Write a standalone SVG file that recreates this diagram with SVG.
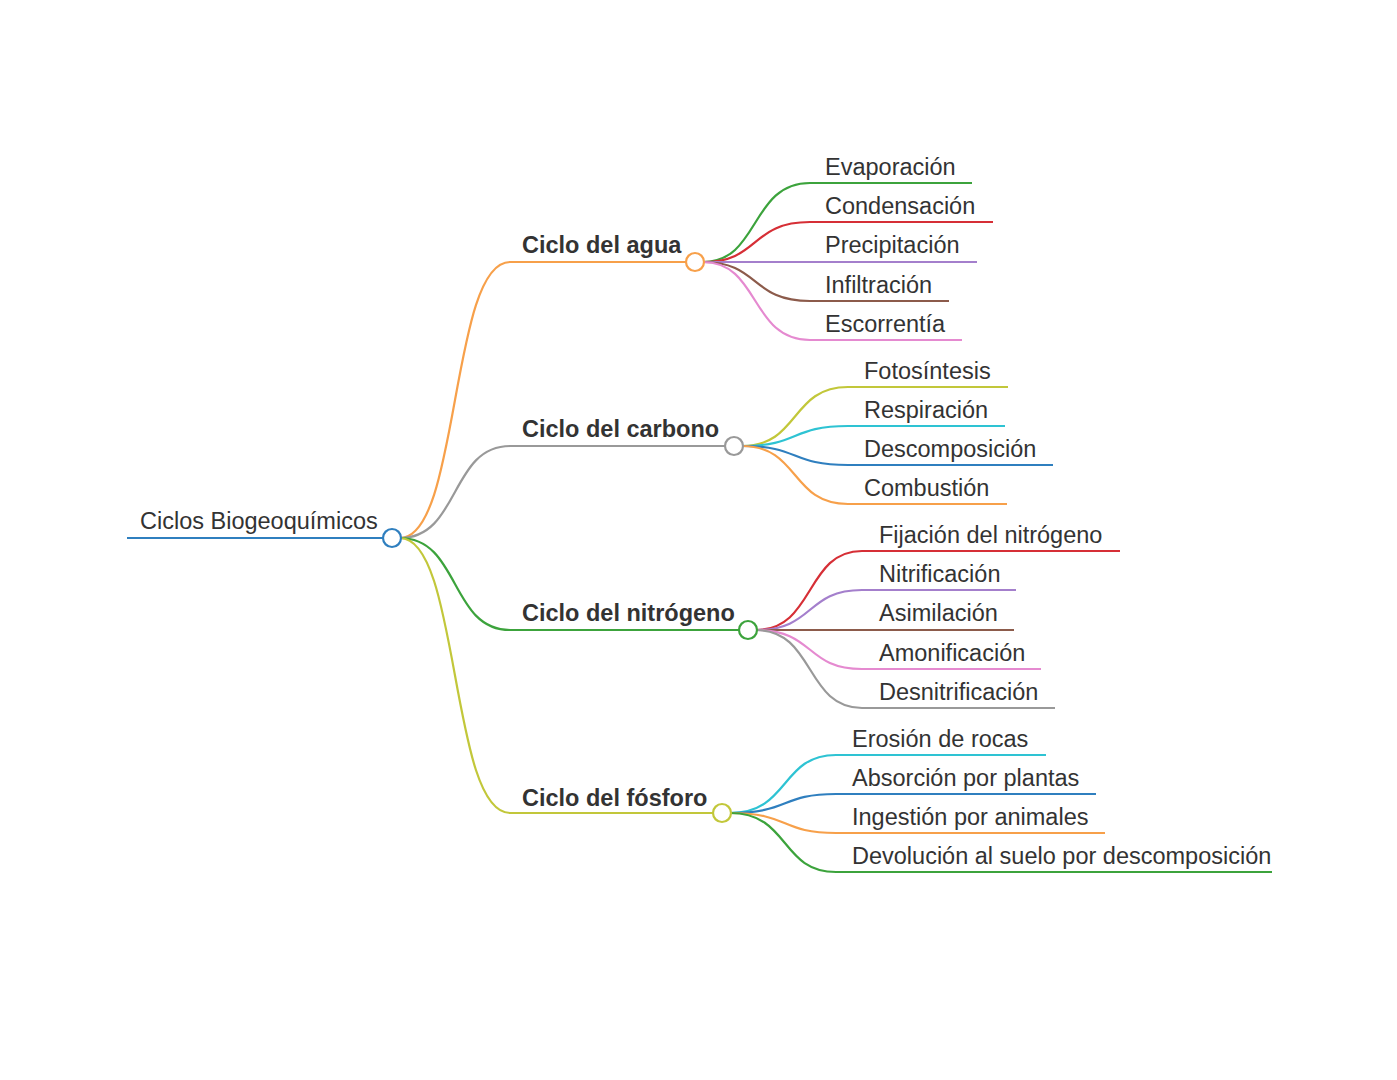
<svg xmlns="http://www.w3.org/2000/svg" width="1397" height="1080" viewBox="0 0 1397 1080">
<style>
text{font-family:"Liberation Sans",Arial,sans-serif;font-size:23.5px;fill:#333}
.b{font-weight:bold}
path,line{fill:none;stroke-width:2.2}
circle{fill:#fff;stroke-width:2.2}
</style>
<rect width="1397" height="1080" fill="#fff"/>
<g id="connectors">
<path d="M400,538 C460,538 450,262 510,262" stroke="#f7a04a"/>
<path d="M400,538 C460,538 450,446 510,446" stroke="#999"/>
<path d="M400,538 C460,538 450,630 510,630" stroke="#3ca33c"/>
<path d="M400,538 C460,538 450,813 510,813" stroke="#c2c73a"/>
<path d="M703,262 C760,262 750,183 810,183" stroke="#3ca33c"/>
<path d="M703,262 C760,262 750,222 810,222" stroke="#d62f36"/>
<path d="M703,262 L810,262" stroke="#a47fcc"/>
<path d="M703,262 C760,262 750,301 810,301" stroke="#8c5b4b"/>
<path d="M703,262 C760,262 750,340 810,340" stroke="#e58ad0"/>
<path d="M742,446 C800,446 790,387 848,387" stroke="#c2c73a"/>
<path d="M742,446 C800,446 790,426 848,426" stroke="#2ec3d3"/>
<path d="M742,446 C800,446 790,465 848,465" stroke="#2f7fbf"/>
<path d="M742,446 C800,446 790,504 848,504" stroke="#f7a04a"/>
<path d="M756,630 C815,630 805,551 862,551" stroke="#d62f36"/>
<path d="M756,630 C815,630 805,590 862,590" stroke="#a47fcc"/>
<path d="M756,630 L862,630" stroke="#8c5b4b"/>
<path d="M756,630 C815,630 805,669 862,669" stroke="#e58ad0"/>
<path d="M756,630 C815,630 805,708 862,708" stroke="#999"/>
<path d="M730,813 C790,813 780,755 836,755" stroke="#2ec3d3"/>
<path d="M730,813 C790,813 780,794 836,794" stroke="#2f7fbf"/>
<path d="M730,813 C790,813 780,833 836,833" stroke="#f7a04a"/>
<path d="M730,813 C790,813 780,872 836,872" stroke="#3ca33c"/>
</g>
<g id="root"><line x1="127" y1="538" x2="383" y2="538" stroke="#2f7fbf"/><circle cx="392" cy="538" r="9" stroke="#2f7fbf"/><text x="140" y="529">Ciclos Biogeoquímicos</text></g>
<g id="agua"><line x1="510" y1="262" x2="686" y2="262" stroke="#f7a04a"/><circle cx="695" cy="262" r="9" stroke="#f7a04a"/><text class="b" x="522" y="253">Ciclo del agua</text></g>
<g id="carbono"><line x1="510" y1="446" x2="725" y2="446" stroke="#999"/><circle cx="734" cy="446" r="9" stroke="#999"/><text class="b" x="522" y="437">Ciclo del carbono</text></g>
<g id="nitrogeno"><line x1="510" y1="630" x2="739" y2="630" stroke="#3ca33c"/><circle cx="748" cy="630" r="9" stroke="#3ca33c"/><text class="b" x="522" y="621">Ciclo del nitrógeno</text></g>
<g id="fosforo"><line x1="510" y1="813" x2="713" y2="813" stroke="#c2c73a"/><circle cx="722" cy="813" r="9" stroke="#c2c73a"/><text class="b" x="522" y="806">Ciclo del fósforo</text></g>
<g id="l1"><line x1="810" y1="183" x2="972" y2="183" stroke="#3ca33c"/><text x="825" y="175">Evaporación</text></g>
<g id="l2"><line x1="810" y1="222" x2="993" y2="222" stroke="#d62f36"/><text x="825" y="214">Condensación</text></g>
<g id="l3"><line x1="810" y1="262" x2="977" y2="262" stroke="#a47fcc"/><text x="825" y="253">Precipitación</text></g>
<g id="l4"><line x1="810" y1="301" x2="949" y2="301" stroke="#8c5b4b"/><text x="825" y="293">Infiltración</text></g>
<g id="l5"><line x1="810" y1="340" x2="962" y2="340" stroke="#e58ad0"/><text x="825" y="332">Escorrentía</text></g>
<g id="c1"><line x1="848" y1="387" x2="1008" y2="387" stroke="#c2c73a"/><text x="864" y="379">Fotosíntesis</text></g>
<g id="c2"><line x1="848" y1="426" x2="1005" y2="426" stroke="#2ec3d3"/><text x="864" y="418">Respiración</text></g>
<g id="c3"><line x1="848" y1="465" x2="1053" y2="465" stroke="#2f7fbf"/><text x="864" y="457">Descomposición</text></g>
<g id="c4"><line x1="848" y1="504" x2="1007" y2="504" stroke="#f7a04a"/><text x="864" y="496">Combustión</text></g>
<g id="n1"><line x1="862" y1="551" x2="1120" y2="551" stroke="#d62f36"/><text x="879" y="543">Fijación del nitrógeno</text></g>
<g id="n2"><line x1="862" y1="590" x2="1016" y2="590" stroke="#a47fcc"/><text x="879" y="582">Nitrificación</text></g>
<g id="n3"><line x1="862" y1="630" x2="1014" y2="630" stroke="#8c5b4b"/><text x="879" y="621">Asimilación</text></g>
<g id="n4"><line x1="862" y1="669" x2="1041" y2="669" stroke="#e58ad0"/><text x="879" y="661">Amonificación</text></g>
<g id="n5"><line x1="862" y1="708" x2="1055" y2="708" stroke="#999"/><text x="879" y="700">Desnitrificación</text></g>
<g id="f1"><line x1="836" y1="755" x2="1046" y2="755" stroke="#2ec3d3"/><text x="852" y="747">Erosión de rocas</text></g>
<g id="f2"><line x1="836" y1="794" x2="1096" y2="794" stroke="#2f7fbf"/><text x="852" y="786">Absorción por plantas</text></g>
<g id="f3"><line x1="836" y1="833" x2="1105" y2="833" stroke="#f7a04a"/><text x="852" y="825">Ingestión por animales</text></g>
<g id="f4"><line x1="836" y1="872" x2="1272" y2="872" stroke="#3ca33c"/><text x="852" y="864">Devolución al suelo por descomposición</text></g>
</svg>
